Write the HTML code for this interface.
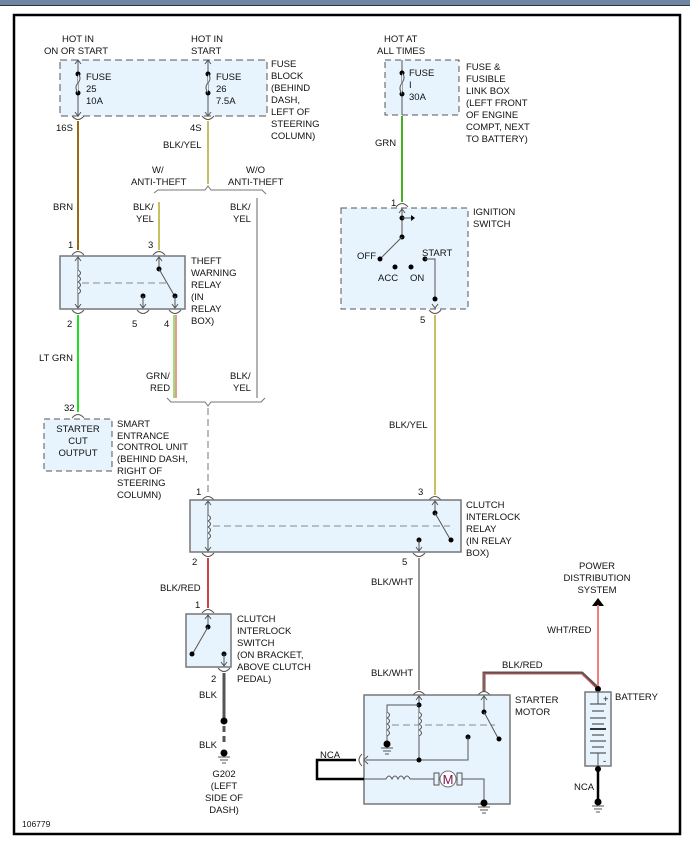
<!DOCTYPE html>
<html><head><meta charset="utf-8"><style>
html,body{margin:0;padding:0;background:#fff;}
svg{display:block;}
text{font-family:"Liberation Sans",sans-serif;font-size:9.5px;fill:#111;}
</style></head><body>
<svg width="690" height="846" viewBox="0 0 690 846" xmlns="http://www.w3.org/2000/svg">
<defs>
<g id="conn"><path d="M-6,3 Q0,-4 6,3" fill="none" stroke="#555" stroke-width="1"/></g>
<g id="connd"><path d="M-6,-3 Q0,4 6,-3" fill="none" stroke="#555" stroke-width="1"/></g>
<g id="gnd"><circle cx="0" cy="0" r="3.5" fill="#000"/><line x1="-6" y1="4" x2="6" y2="4" stroke="#555"/><line x1="-4" y1="7" x2="4" y2="7" stroke="#555"/><line x1="-2" y1="10" x2="2" y2="10" stroke="#555"/></g>
</defs>
<rect x="0" y="0" width="690" height="5" fill="#6e86a3"/>
<rect x="0" y="5" width="690" height="1" fill="#333"/>
<rect x="14" y="15" width="666" height="819" fill="#fff" stroke="#000" stroke-width="2.5"/>

<!-- Fuse block -->
<rect x="60" y="60" width="207" height="56" fill="#e8f4fd" stroke="#555" stroke-dasharray="7,4"/>
<text x="62" y="42">HOT IN</text><text x="44" y="54">ON OR START</text>
<text x="191" y="42">HOT IN</text><text x="191" y="54">START</text>
<line x1="78" y1="61" x2="78" y2="115" stroke="#555"/>
<path d="M75,64 L78,60 L81,64 M75,112 L78,116 L81,112" fill="none" stroke="#555"/>
<circle cx="78" cy="74" r="2.5" fill="#000"/><circle cx="78" cy="93" r="2.5" fill="#000"/>
<path d="M78,74 q4,4 0,9 q-4,4 0,10" fill="#e8f4fd" stroke="#555"/>
<text x="86" y="80">FUSE</text><text x="86" y="92">25</text><text x="86" y="104">10A</text>
<line x1="208" y1="61" x2="208" y2="115" stroke="#555"/>
<path d="M205,64 L208,60 L211,64 M205,112 L208,116 L211,112" fill="none" stroke="#555"/>
<circle cx="208" cy="74" r="2.5" fill="#000"/><circle cx="208" cy="93" r="2.5" fill="#000"/>
<path d="M208,74 q4,4 0,9 q-4,4 0,10" fill="#e8f4fd" stroke="#555"/>
<text x="216" y="80">FUSE</text><text x="216" y="92">26</text><text x="216" y="104">7.5A</text>
<text x="271" y="67">FUSE</text><text x="271" y="79">BLOCK</text><text x="271" y="91">(BEHIND</text><text x="271" y="103">DASH,</text><text x="271" y="115">LEFT OF</text><text x="271" y="127">STEERING</text><text x="271" y="139">COLUMN)</text>
<use href="#connd" x="78" y="119"/><use href="#connd" x="208" y="119"/>
<text x="56" y="131">16S</text><text x="190" y="131">4S</text>
<line x1="78" y1="121" x2="78" y2="250" stroke="#9a6a10" stroke-width="2"/>
<text x="53" y="210">BRN</text>
<line x1="208" y1="121" x2="208" y2="184" stroke="#c8c060" stroke-width="2"/>
<text x="163" y="148">BLK/YEL</text>
<text x="152" y="173">W/</text><text x="131" y="185">ANTI-THEFT</text>
<text x="246" y="173">W/O</text><text x="228" y="185">ANTI-THEFT</text>
<path d="M154,193 L158,190 L205,190 L208,186 L211,190 L262,190 L266,194" fill="none" stroke="#777"/>
<line x1="159" y1="202" x2="159" y2="250" stroke="#c8c060" stroke-width="2"/>
<line x1="257" y1="198" x2="257" y2="398" stroke="#999" stroke-width="1.5"/>
<text x="133" y="210">BLK/</text><text x="136" y="222">YEL</text>
<text x="230" y="210">BLK/</text><text x="233" y="222">YEL</text>

<!-- Theft relay -->
<use href="#conn" x="78" y="252"/><use href="#conn" x="159" y="252"/>
<text x="68" y="248">1</text><text x="148" y="248">3</text>
<rect x="60" y="256" width="125" height="53" fill="#e8f4fd" stroke="#777" stroke-width="1.5"/>
<line x1="78" y1="257" x2="78" y2="308" stroke="#555"/>
<path d="M75,261 L78,257 L81,261 M75,304 L78,308 L81,304" fill="none" stroke="#555"/>
<path d="M78,270 q5,3 0,6 q5,3 0,6 q5,3 0,6 q5,3 0,6" fill="#e8f4fd" stroke="#555"/>
<line x1="82" y1="283" x2="166" y2="283" stroke="#888" stroke-dasharray="7,4"/>
<line x1="159" y1="257" x2="159" y2="269" stroke="#555"/>
<path d="M156,261 L159,257 L162,261" fill="none" stroke="#555"/>
<circle cx="159" cy="269" r="2.5" fill="#000"/><line x1="159" y1="269" x2="174" y2="295" stroke="#555"/>
<circle cx="175" cy="296" r="2.5" fill="#000"/><line x1="175" y1="296" x2="175" y2="308" stroke="#555"/>
<path d="M172,304 L175,308 L178,304" fill="none" stroke="#555"/>
<circle cx="143" cy="296" r="2.5" fill="#000"/><line x1="143" y1="296" x2="143" y2="308" stroke="#555"/>
<path d="M140,304 L143,308 L146,304" fill="none" stroke="#555"/>
<use href="#connd" x="78" y="313"/><use href="#connd" x="143" y="313"/><use href="#connd" x="175" y="313"/>
<text x="67" y="327">2</text><text x="132" y="327">5</text><text x="164" y="327">4</text>
<text x="191" y="264">THEFT</text><text x="191" y="276">WARNING</text><text x="191" y="288">RELAY</text><text x="191" y="300">(IN</text><text x="191" y="312">RELAY</text><text x="191" y="324">BOX)</text>
<line x1="78" y1="315" x2="78" y2="412" stroke="#22dd22" stroke-width="2"/>
<text x="39" y="361">LT GRN</text>
<line x1="174" y1="315" x2="174" y2="398" stroke="#66cc33" stroke-width="1.3"/>
<line x1="176" y1="315" x2="176" y2="398" stroke="#e06050" stroke-width="1.3"/>
<text x="146" y="379">GRN/</text><text x="150" y="391">RED</text>
<text x="230" y="379">BLK/</text><text x="233" y="391">YEL</text>
<path d="M167,398 L171,402 L205,402 L208,406 L211,402 L261,402 L265,398" fill="none" stroke="#777"/>
<line x1="208" y1="408" x2="208" y2="495" stroke="#bbb" stroke-width="2" stroke-dasharray="7,4"/>

<!-- Smart entrance -->
<use href="#conn" x="78" y="415"/><text x="64" y="411">32</text>
<rect x="44" y="419" width="68" height="52" fill="#e8f4fd" stroke="#555" stroke-dasharray="6,4"/>
<text x="78" y="432" text-anchor="middle">STARTER</text><text x="78" y="444" text-anchor="middle">CUT</text><text x="78" y="456" text-anchor="middle">OUTPUT</text>
<text x="117" y="427">SMART</text><text x="117" y="439">ENTRANCE</text><text x="117" y="450">CONTROL UNIT</text><text x="117" y="462">(BEHIND DASH,</text><text x="117" y="474">RIGHT OF</text><text x="117" y="486">STEERING</text><text x="117" y="498">COLUMN)</text>

<!-- Fuse box 2 -->
<text x="384" y="42">HOT AT</text><text x="377" y="54">ALL TIMES</text>
<rect x="385" y="60" width="74" height="55" fill="#e8f4fd" stroke="#555" stroke-dasharray="6,4"/>
<line x1="402" y1="60" x2="402" y2="115" stroke="#555"/>
<circle cx="402" cy="73" r="2.5" fill="#000"/><circle cx="402" cy="94" r="2.5" fill="#000"/>
<path d="M402,73 q4,4 0,10 q-4,5 0,11" fill="#e8f4fd" stroke="#555"/>
<text x="409" y="76">FUSE</text><text x="409" y="88" fill="#7030a0">I</text><text x="409" y="100">30A</text>
<text x="466" y="70">FUSE &amp;</text><text x="466" y="82">FUSIBLE</text><text x="466" y="94">LINK BOX</text><text x="466" y="106">(LEFT FRONT</text><text x="466" y="118">OF ENGINE</text><text x="466" y="130">COMPT, NEXT</text><text x="466" y="142">TO BATTERY)</text>
<line x1="402" y1="116" x2="402" y2="202" stroke="#44b020" stroke-width="2"/>
<text x="375" y="146">GRN</text>

<!-- Ignition switch -->
<use href="#conn" x="402" y="204"/><text x="391" y="206" fill="#b07000">1</text>
<rect x="341" y="208" width="127" height="101" fill="#e8f4fd" stroke="#555" stroke-dasharray="6,4"/>
<text x="473" y="215">IGNITION</text><text x="473" y="227">SWITCH</text>
<line x1="402" y1="209" x2="402" y2="237" stroke="#555"/>
<path d="M399,213 L402,209 L405,213" fill="none" stroke="#555"/>
<circle cx="402" cy="218" r="2.5" fill="#000"/><line x1="402" y1="218" x2="413" y2="218" stroke="#555"/><path d="M411,215 L415,218 L411,221 Z" fill="#000"/>
<circle cx="402" cy="237" r="2.5" fill="#000"/><line x1="402" y1="237" x2="380" y2="259" stroke="#555"/>
<circle cx="380" cy="259" r="2.5" fill="#000"/>
<circle cx="395" cy="267" r="2.5" fill="#000"/><circle cx="411" cy="267" r="2.5" fill="#000"/>
<text x="357" y="259">OFF</text><text x="378" y="281">ACC</text><text x="410" y="281">ON</text>
<text x="422" y="256">START</text>
<circle cx="425" cy="259" r="2.5" fill="#000"/><path d="M425,259 L435,259 L435,300" fill="none" stroke="#555"/>
<circle cx="435" cy="299" r="2.5" fill="#000"/><path d="M432,304 L435,308 L438,304" fill="none" stroke="#555"/>
<use href="#connd" x="435" y="313"/><text x="420" y="323">5</text>
<line x1="435" y1="315" x2="435" y2="495" stroke="#c8c060" stroke-width="2"/>
<text x="389" y="428">BLK/YEL</text>

<!-- Clutch interlock relay -->
<use href="#conn" x="208" y="497"/><use href="#conn" x="435" y="497"/>
<text x="196" y="495">1</text><text x="418" y="495">3</text>
<rect x="190" y="500" width="271" height="52" fill="#e8f4fd" stroke="#777" stroke-width="1.5"/>
<line x1="208" y1="501" x2="208" y2="551" stroke="#555"/>
<path d="M205,505 L208,501 L211,505 M205,547 L208,551 L211,547" fill="none" stroke="#555"/>
<path d="M208,515 q5,3 0,6 q5,3 0,6 q5,3 0,6 q5,3 0,6" fill="#e8f4fd" stroke="#555"/>
<line x1="213" y1="526" x2="450" y2="526" stroke="#888" stroke-dasharray="7,4"/>
<line x1="435" y1="501" x2="435" y2="513" stroke="#555"/><path d="M432,505 L435,501 L438,505" fill="none" stroke="#555"/>
<circle cx="435" cy="513" r="2.5" fill="#000"/><line x1="435" y1="513" x2="450" y2="539" stroke="#555"/>
<circle cx="451" cy="540" r="2.5" fill="#000"/>
<circle cx="419" cy="540" r="2.5" fill="#000"/><line x1="419" y1="540" x2="419" y2="551" stroke="#555"/><path d="M416,547 L419,551 L422,547" fill="none" stroke="#555"/>
<text x="466" y="508">CLUTCH</text><text x="466" y="520">INTERLOCK</text><text x="466" y="532">RELAY</text><text x="466" y="544">(IN RELAY</text><text x="466" y="556">BOX)</text>
<use href="#connd" x="208" y="556"/><use href="#connd" x="419" y="556"/>
<text x="192" y="565">2</text><text x="402" y="565">5</text>
<line x1="208" y1="558" x2="208" y2="608" stroke="#d04040" stroke-width="2"/>
<text x="160" y="591">BLK/RED</text>
<line x1="419" y1="558" x2="419" y2="690" stroke="#777" stroke-width="1.5"/>
<text x="371" y="585">BLK/WHT</text><text x="371" y="676">BLK/WHT</text>

<!-- Clutch switch -->
<use href="#conn" x="208" y="610"/><text x="195" y="608">1</text>
<rect x="186" y="614" width="45" height="53" fill="#e8f4fd" stroke="#777" stroke-width="1.5"/>
<line x1="208" y1="615" x2="208" y2="627" stroke="#555"/><path d="M205,619 L208,615 L211,619" fill="none" stroke="#555"/>
<circle cx="208" cy="627" r="2.5" fill="#000"/><line x1="208" y1="627" x2="193" y2="653" stroke="#555"/>
<circle cx="192" cy="654" r="2.5" fill="#000"/>
<circle cx="224" cy="654" r="2.5" fill="#000"/><line x1="224" y1="654" x2="224" y2="666" stroke="#555"/><path d="M221,662 L224,666 L227,662" fill="none" stroke="#555"/>
<text x="237" y="622">CLUTCH</text><text x="237" y="634">INTERLOCK</text><text x="237" y="646">SWITCH</text><text x="237" y="658">(ON BRACKET,</text><text x="237" y="670">ABOVE CLUTCH</text><text x="237" y="682">PEDAL)</text>
<use href="#connd" x="224" y="671"/><text x="211" y="682">2</text>
<line x1="224" y1="673" x2="224" y2="721" stroke="#555" stroke-width="3"/>
<text x="199" y="698">BLK</text>
<circle cx="224" cy="721" r="3.5" fill="#000"/>
<line x1="224" y1="726" x2="224" y2="746" stroke="#555" stroke-width="3" stroke-dasharray="6,4"/>
<text x="199" y="748">BLK</text>
<use href="#gnd" x="224" y="753"/>
<text x="224" y="777" text-anchor="middle">G202</text><text x="224" y="789" text-anchor="middle">(LEFT</text><text x="224" y="801" text-anchor="middle">SIDE OF</text><text x="224" y="813" text-anchor="middle">DASH)</text>

<!-- Starter motor -->
<path d="M484,692 L484,673 L582,673 L598,688" fill="none" stroke="#555" stroke-width="3"/>
<path d="M484,692 L484,674 L582,674 L597,689" fill="none" stroke="#e05050" stroke-width="1"/>
<text x="502" y="668">BLK/RED</text>
<use href="#conn" x="419" y="692"/><use href="#conn" x="484" y="692"/>
<rect x="364" y="695" width="146" height="109" fill="#e8f4fd" stroke="#777" stroke-width="1.5"/>
<text x="515" y="703">STARTER</text><text x="515" y="715">MOTOR</text>
<line x1="419" y1="696" x2="419" y2="759" stroke="#555"/><path d="M416,700 L419,696 L422,700" fill="none" stroke="#555"/>
<circle cx="419" cy="705" r="2.5" fill="#000"/>
<path d="M419,705 L387,705 L387,744" fill="none" stroke="#555"/>
<path d="M387,712 q5,3 0,6 q5,3 0,6 q5,3 0,6 q5,3 0,6" fill="#e8f4fd" stroke="#555"/>
<path d="M419,712 q5,3 0,6 q5,3 0,6 q5,3 0,6 q5,3 0,6" fill="#e8f4fd" stroke="#555"/>
<use href="#gnd" x="387" y="744"/>
<line x1="392" y1="725" x2="495" y2="725" stroke="#888" stroke-dasharray="7,4"/>
<line x1="484" y1="696" x2="484" y2="712" stroke="#555"/><path d="M481,700 L484,696 L487,700" fill="none" stroke="#555"/>
<circle cx="484" cy="712" r="2.5" fill="#000"/><line x1="484" y1="712" x2="498" y2="738" stroke="#555"/>
<circle cx="499" cy="739" r="2.5" fill="#000"/>
<circle cx="468" cy="737" r="2.5" fill="#000"/>
<path d="M468,737 L468,760 L366,760" fill="none" stroke="#555"/>
<circle cx="419" cy="760" r="2.5" fill="#000"/>
<path d="M368,756 L364,760 L368,764" fill="none" stroke="#555"/>
<path d="M362,754 Q356,760 362,766" fill="none" stroke="#555"/>
<path d="M356,760 L317,760 L317,779 L364,779" fill="none" stroke="#000" stroke-width="2.5"/>
<text x="320" y="758">NCA</text>
<line x1="364" y1="779" x2="386" y2="779" stroke="#555"/>
<path d="M386,779 q3,-6 6,0 q3,-6 6,0 q3,-6 6,0 q3,-6 6,0" fill="#e8f4fd" stroke="#555"/>
<line x1="410" y1="779" x2="434" y2="779" stroke="#555"/>
<rect x="434" y="773" width="5" height="12" fill="#e8f4fd" stroke="#555"/><rect x="457" y="773" width="5" height="12" fill="#e8f4fd" stroke="#555"/>
<circle cx="448" cy="779" r="8" fill="#fff" stroke="#777"/>
<text x="448" y="784" text-anchor="middle" style="font-size:13px;fill:#7a1050">M</text>
<path d="M462,779 L484,779 L484,803" fill="none" stroke="#555"/>
<use href="#gnd" x="484" y="803"/>

<!-- Battery -->
<text x="597" y="569" text-anchor="middle">POWER</text><text x="597" y="581" text-anchor="middle">DISTRIBUTION</text><text x="597" y="593" text-anchor="middle">SYSTEM</text>
<path d="M592,606 L598,598 L604,606 Z" fill="#000"/>
<line x1="598" y1="605" x2="598" y2="688" stroke="#f08080" stroke-width="2"/>
<text x="547" y="633">WHT/RED</text>
<circle cx="598" cy="689" r="3" fill="#000"/>
<rect x="585" y="692" width="26" height="74" fill="#e8f4fd" stroke="#777" stroke-width="1.5"/>
<text x="603" y="702">+</text><text x="603" y="764">-</text>
<text x="615" y="700">BATTERY</text>
<line x1="598" y1="692" x2="598" y2="704" stroke="#555"/>
<g stroke="#333"><line x1="590" y1="704" x2="606" y2="704"/><line x1="592" y1="711" x2="604" y2="711"/><line x1="590" y1="718" x2="606" y2="718"/><line x1="592" y1="724" x2="604" y2="724"/><line x1="590" y1="729" x2="606" y2="729" stroke-width="2"/><line x1="592" y1="735" x2="604" y2="735"/><line x1="590" y1="741" x2="606" y2="741"/><line x1="592" y1="747" x2="604" y2="747"/><line x1="590" y1="753" x2="606" y2="753"/></g>
<line x1="598" y1="753" x2="598" y2="766" stroke="#555"/>
<circle cx="598" cy="769" r="3" fill="#000"/>
<line x1="598" y1="769" x2="598" y2="800" stroke="#000" stroke-width="2.5"/>
<text x="574" y="790">NCA</text>
<use href="#gnd" x="598" y="802"/>

<text x="22" y="827" style="font-size:8.5px">106779</text>
</svg>
</body></html>
